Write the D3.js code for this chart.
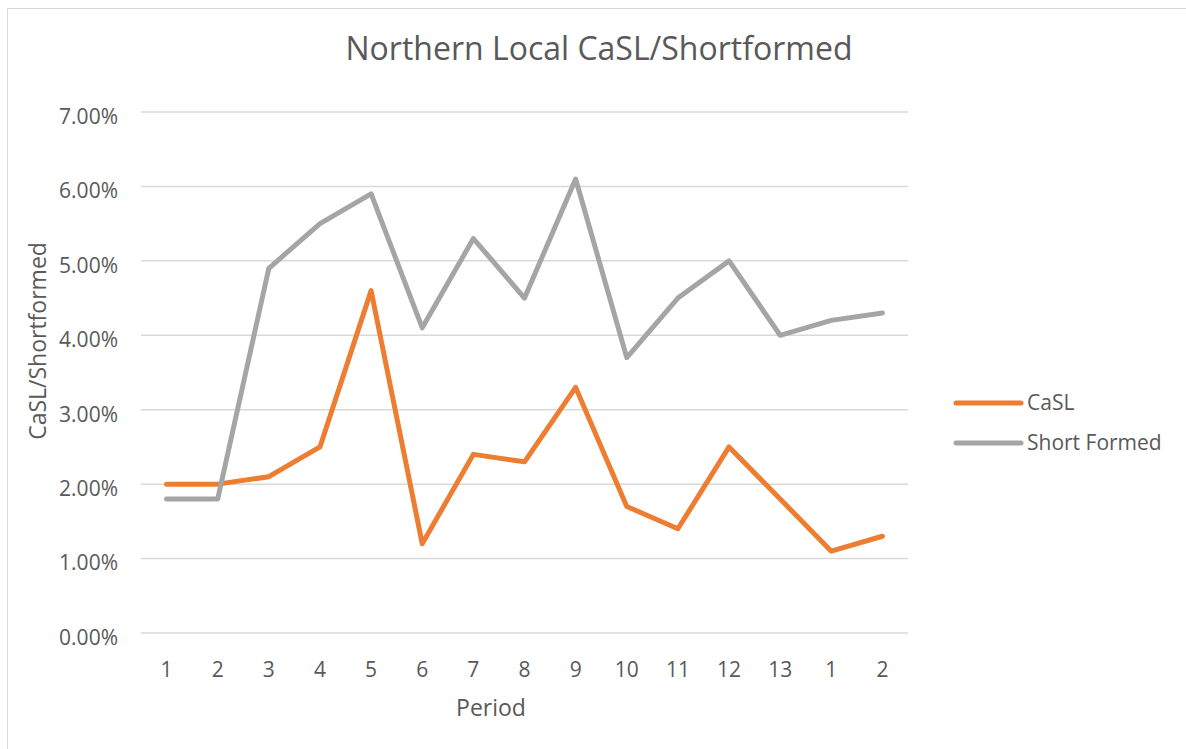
<!DOCTYPE html>
<html><head><meta charset="utf-8">
<script src="https://cdn.jsdelivr.net/npm/d3@7"></script>
<style>body{margin:0;background:#fff}svg{display:block}text{font-family:"Open Sans",sans-serif;fill:#595959}</style>
</head><body>
<script>
const periods = ["1","2","3","4","5","6","7","8","9","10","11","12","13","1","2"];
const casl = [2.0,2.0,2.1,2.5,4.6,1.2,2.4,2.3,3.3,1.7,1.4,2.5,1.8,1.1,1.3];
const shortFormed = [1.8,1.8,4.9,5.5,5.9,4.1,5.3,4.5,6.1,3.7,4.5,5.0,4.0,4.2,4.3];
const yTicks = [0,1,2,3,4,5,6,7];
const seriesNames = ["CaSL","Short Formed"];
const seriesColors = ["#ED7D31","#A5A5A5"];

const W=1186,H=749;
const svg=d3.select("body").append("svg").attr("width",W).attr("height",H);
svg.append("rect").attr("x",7.5).attr("y",8.5).attr("width",1200).attr("height",800)
  .attr("fill","#fff").attr("stroke","#D9D9D9").attr("stroke-width",1);

const keys=periods.map((p,i)=>i);
const x=d3.scaleBand().domain(keys).range([141,908]);
const y=d3.scaleLinear().domain([0,7]).range([633,112]);

// gridlines
svg.append("g").selectAll("line").data(yTicks).join("line")
  .attr("x1",141).attr("x2",908).attr("y1",d=>y(d)).attr("y2",d=>y(d))
  .attr("stroke","#D9D9D9").attr("stroke-width",1.5);

// y axis labels
const yAxis=d3.axisLeft(y).tickValues(yTicks).tickFormat(d=>d.toFixed(2)+"%").tickSize(0).tickPadding(0);
const gy=svg.append("g").attr("transform","translate(118,4)").call(yAxis);
gy.select(".domain").remove();
gy.selectAll("text").attr("font-size",21).attr("fill","#595959").attr("dy","0.35em").style("font-family","'Open Sans',sans-serif");

// x axis labels
const xAxis=d3.axisBottom(x).tickFormat(i=>periods[i]).tickSize(0).tickPadding(0);
const gx=svg.append("g").attr("transform","translate(0,662)").call(xAxis);
gx.select(".domain").remove();
gx.selectAll("text").attr("font-size",21).attr("fill","#595959").attr("dy","0.71em").style("font-family","'Open Sans',sans-serif");

const line=d3.line().x((d,i)=>x(i)+x.bandwidth()/2).y(d=>y(d));
[casl,shortFormed].forEach((s,k)=>{
  svg.append("path").datum(s).attr("d",line).attr("fill","none")
    .attr("stroke",seriesColors[k]).attr("stroke-width",5)
    .attr("stroke-linejoin","round").attr("stroke-linecap","round");
});

// title
svg.append("text").attr("x",599).attr("y",60).attr("text-anchor","middle").attr("font-size",32).text("Northern Local CaSL/Shortformed");
// axis titles
svg.append("text").attr("x",491).attr("y",716).attr("text-anchor","middle").attr("font-size",23).text("Period");
svg.append("text").attr("transform","translate(46,341) rotate(-90)").attr("text-anchor","middle").attr("font-size",23).text("CaSL/Shortformed");

// legend
seriesNames.forEach((n,k)=>{
  const ly=403+k*40;
  svg.append("line").attr("x1",956).attr("x2",1021).attr("y1",ly).attr("y2",ly)
    .attr("stroke",seriesColors[k]).attr("stroke-width",5).attr("stroke-linecap","round");
  svg.append("text").attr("x",1027).attr("y",ly).attr("dy","0.35em").attr("font-size",21).text(n);
});
</script>
</body></html>
